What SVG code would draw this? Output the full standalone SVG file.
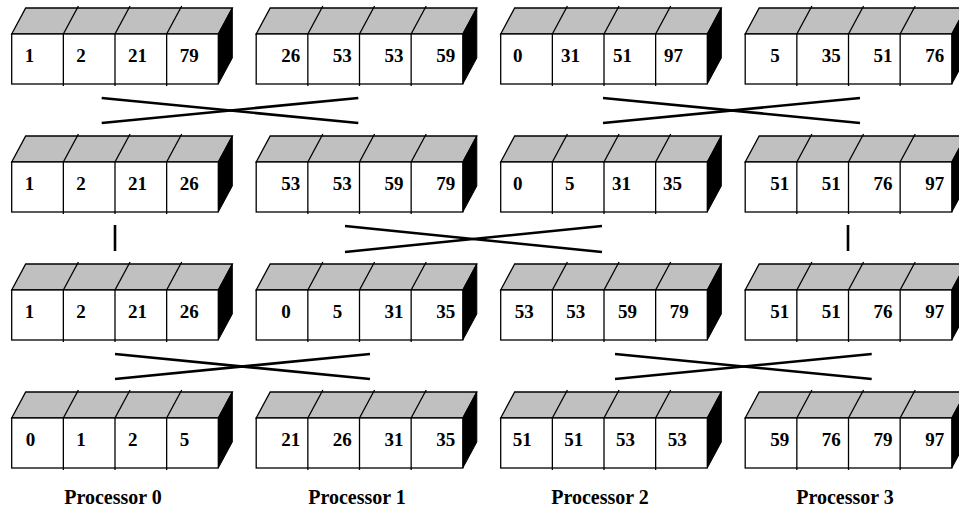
<svg xmlns="http://www.w3.org/2000/svg" width="959" height="512" viewBox="0 0 959 512">
<style>
.top{fill:#c0c0c0;stroke:#000;stroke-width:1.3;stroke-linejoin:miter}
.side{fill:#000;stroke:#000;stroke-width:1}
.front{fill:#fff;stroke:#000;stroke-width:1.3}
.dv{stroke:#000;stroke-width:1.3}
.num{font-family:"Liberation Serif","Times New Roman",serif;font-weight:bold;font-size:19px;fill:#000}
.lbl{font-family:"Liberation Serif","Times New Roman",serif;font-weight:bold;font-size:20px;fill:#000;text-anchor:middle}
.conn line{stroke:#000;stroke-width:2.6}
</style>
<defs>
<g id="cube">
<polygon class="top" points="0,0 14,-26 220.6,-26 206.6,0"/>
<polygon class="side" points="206.6,0 220.6,-26 220.6,24 206.6,50"/>
<rect class="front" x="0" y="0" width="206.6" height="50"/>
<line class="dv" x1="51.65" y1="0" x2="51.65" y2="52"/>
<line class="dv" x1="103.3" y1="0" x2="103.3" y2="52"/>
<line class="dv" x1="154.95" y1="0" x2="154.95" y2="52"/>
<line class="dv" x1="51.65" y1="0" x2="66.7" y2="-28"/>
<line class="dv" x1="103.3" y1="0" x2="118.35" y2="-28"/>
<line class="dv" x1="154.95" y1="0" x2="170" y2="-28"/>
</g>
</defs>
<rect width="959" height="512" fill="#fff"/>

<g id="conn" class="conn">
<line x1="101.7" y1="98" x2="358.3" y2="123"/>
<line x1="101.7" y1="123" x2="358.3" y2="98"/>
<line x1="603" y1="98" x2="860" y2="123"/>
<line x1="603" y1="123" x2="860" y2="98"/>
<line x1="115" y1="225" x2="115" y2="251"/>
<line x1="345" y1="226" x2="602" y2="252"/>
<line x1="345" y1="252" x2="602" y2="226"/>
<line x1="848" y1="225" x2="848" y2="251"/>
<line x1="115" y1="354" x2="370" y2="379"/>
<line x1="115" y1="379" x2="370" y2="354"/>
<line x1="615" y1="354" x2="871.7" y2="379"/>
<line x1="615" y1="379" x2="871.7" y2="354"/>
</g>

<g id="r0p0"><use href="#cube" x="11.7" y="34"/>
<text class="num" x="24.7" y="62">1</text><text class="num" x="76.35" y="62">2</text><text class="num" x="128" y="62">21</text><text class="num" x="179.65" y="62">79</text></g>
<g id="r0p1"><use href="#cube" x="256.2" y="34"/>
<text class="num" x="281.2" y="62">26</text><text class="num" x="332.85" y="62">53</text><text class="num" x="384.5" y="62">53</text><text class="num" x="436.15" y="62">59</text></g>
<g id="r0p2"><use href="#cube" x="500.7" y="34"/>
<text class="num" x="513" y="62">0</text><text class="num" x="561" y="62">31</text><text class="num" x="613" y="62">51</text><text class="num" x="664" y="62">97</text></g>
<g id="r0p3"><use href="#cube" x="745.2" y="34"/>
<text class="num" x="770.2" y="62">5</text><text class="num" x="821.85" y="62">35</text><text class="num" x="873.5" y="62">51</text><text class="num" x="925.15" y="62">76</text></g>

<g id="r1p0"><use href="#cube" x="11.7" y="162"/>
<text class="num" x="24.7" y="190">1</text><text class="num" x="76.35" y="190">2</text><text class="num" x="128" y="190">21</text><text class="num" x="179.65" y="190">26</text></g>
<g id="r1p1"><use href="#cube" x="256.2" y="162"/>
<text class="num" x="281.2" y="190">53</text><text class="num" x="332.85" y="190">53</text><text class="num" x="384.5" y="190">59</text><text class="num" x="436.15" y="190">79</text></g>
<g id="r1p2"><use href="#cube" x="500.7" y="162"/>
<text class="num" x="513" y="190">0</text><text class="num" x="565" y="190">5</text><text class="num" x="612" y="190">31</text><text class="num" x="663" y="190">35</text></g>
<g id="r1p3"><use href="#cube" x="745.2" y="162"/>
<text class="num" x="770.2" y="190">51</text><text class="num" x="821.85" y="190">51</text><text class="num" x="873.5" y="190">76</text><text class="num" x="925.15" y="190">97</text></g>

<g id="r2p0"><use href="#cube" x="11.7" y="290"/>
<text class="num" x="24.7" y="318">1</text><text class="num" x="76.35" y="318">2</text><text class="num" x="128" y="318">21</text><text class="num" x="179.65" y="318">26</text></g>
<g id="r2p1"><use href="#cube" x="256.2" y="290"/>
<text class="num" x="281.2" y="318">0</text><text class="num" x="332.85" y="318">5</text><text class="num" x="384.5" y="318">31</text><text class="num" x="436.15" y="318">35</text></g>
<g id="r2p2"><use href="#cube" x="500.7" y="290"/>
<text class="num" x="514.7" y="318">53</text><text class="num" x="566.35" y="318">53</text><text class="num" x="618" y="318">59</text><text class="num" x="669.65" y="318">79</text></g>
<g id="r2p3"><use href="#cube" x="745.2" y="290"/>
<text class="num" x="770.2" y="318">51</text><text class="num" x="821.85" y="318">51</text><text class="num" x="873.5" y="318">76</text><text class="num" x="925.15" y="318">97</text></g>

<g id="r3p0"><use href="#cube" x="11.7" y="418"/>
<text class="num" x="25.7" y="446">0</text><text class="num" x="76.35" y="446">1</text><text class="num" x="128" y="446">2</text><text class="num" x="179.65" y="446">5</text></g>
<g id="r3p1"><use href="#cube" x="256.2" y="418"/>
<text class="num" x="281.2" y="446">21</text><text class="num" x="332.85" y="446">26</text><text class="num" x="384.5" y="446">31</text><text class="num" x="436.15" y="446">35</text></g>
<g id="r3p2"><use href="#cube" x="500.7" y="418"/>
<text class="num" x="512.7" y="446">51</text><text class="num" x="564.35" y="446">51</text><text class="num" x="616" y="446">53</text><text class="num" x="667.65" y="446">53</text></g>
<g id="r3p3"><use href="#cube" x="745.2" y="418"/>
<text class="num" x="770.2" y="446">59</text><text class="num" x="821.85" y="446">76</text><text class="num" x="873.5" y="446">79</text><text class="num" x="925.15" y="446">97</text></g>

<g id="labels">
<text class="lbl" x="113" y="504">Processor 0</text>
<text class="lbl" x="357" y="504">Processor 1</text>
<text class="lbl" x="600" y="504">Processor 2</text>
<text class="lbl" x="845" y="504">Processor 3</text>
</g>
</svg>
